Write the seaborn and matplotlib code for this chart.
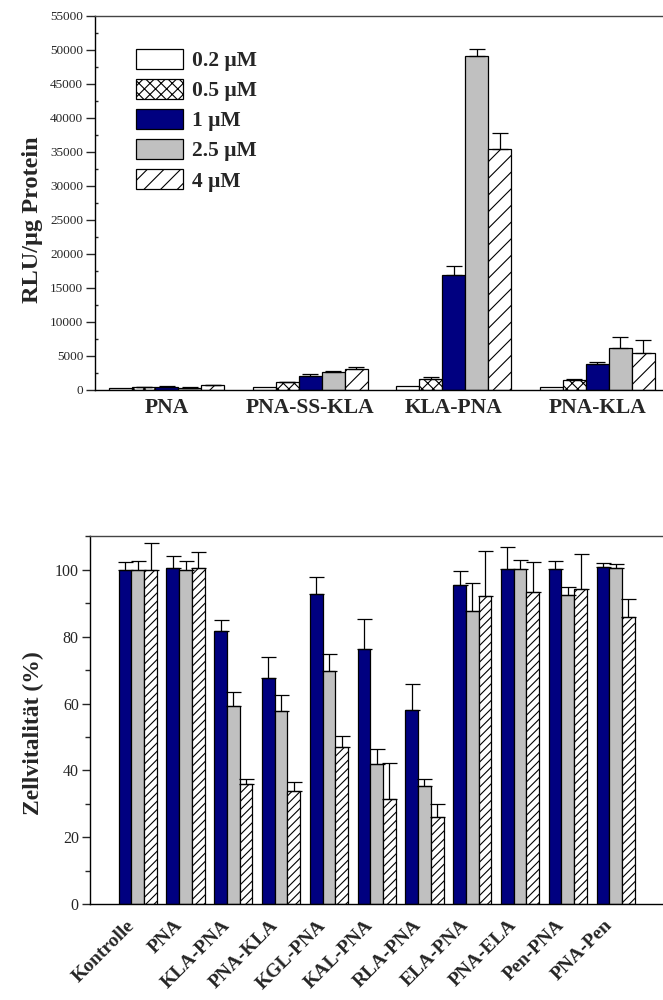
import numpy as np
import pandas as pd
import matplotlib
matplotlib.use("Agg")
import matplotlib.pyplot as plt
from matplotlib.ticker import MultipleLocator
import seaborn as sns

# ---- Luciferase read-out (RLU per µg protein) ----
conjugates = ["PNA", "PNA-SS-KLA", "KLA-PNA", "PNA-KLA"]
concentrations = ["0.2 µM", "0.5 µM", "1 µM", "2.5 µM", "4 µM"]
rlu_02 = [300, 440, 640, 490]
rlu_05 = [400, 1130, 1570, 1470]
rlu_1 = [490, 2110, 16900, 3820]
rlu_25 = [340, 2650, 49100, 6170]
rlu_4 = [690, 3150, 35430, 5440]
rlu_err_02 = [0, 0, 0, 0]
rlu_err_05 = [60, 100, 330, 150]
rlu_err_1 = [100, 220, 1380, 300]
rlu_err_25 = [60, 200, 1030, 1670]
rlu_err_4 = [60, 300, 2300, 1960]

# ---- Cell viability (%) ----
peptides = ["Kontrolle", "PNA", "KLA-PNA", "PNA-KLA", "KGL-PNA", "KAL-PNA",
            "RLA-PNA", "ELA-PNA", "PNA-ELA", "Pen-PNA", "PNA-Pen"]
viab_levels = ["1 µM", "2.5 µM", "4 µM"]
viab_1 = [100.0, 100.6, 81.7, 67.5, 92.8, 76.4, 58.2, 95.5, 100.3, 100.3, 100.7]
viab_25 = [100.0, 100.0, 59.4, 57.9, 69.8, 41.9, 35.4, 87.6, 100.1, 92.5, 100.4]
viab_4 = [100.0, 100.4, 36.0, 33.9, 47.0, 31.4, 26.0, 92.1, 93.3, 94.3, 85.9]
viab_err_1 = [2.2, 3.5, 3.2, 6.5, 4.9, 9.0, 7.6, 4.1, 6.6, 2.3, 1.4]
viab_err_25 = [2.5, 2.5, 4.1, 4.6, 5.1, 4.5, 2.2, 8.5, 2.8, 2.3, 1.3]
viab_err_4 = [8.0, 5.0, 1.4, 2.6, 3.3, 10.9, 3.9, 13.6, 9.1, 10.4, 5.3]

NAVY = "#000080"
GREY = "#c0c0c0"

sns.set_style("ticks")
plt.rcParams["font.family"] = ["Liberation Serif", "DejaVu Serif"]
plt.rcParams["hatch.linewidth"] = 0.8
plt.rcParams["axes.linewidth"] = 1.0

fig = plt.figure(figsize=(6.63, 10.0), dpi=100)


def long_frame(cats, levels, values):
    rows = []
    for lvl, vals in zip(levels, values):
        for c, v in zip(cats, vals):
            rows.append({"cat": c, "conc": lvl, "value": v})
    return pd.DataFrame(rows)


def add_errors(ax, errors, capsize):
    for cont, errs in zip(ax.containers, errors):
        xs, ys, es = [], [], []
        for bar, e in zip(cont.patches, errs):
            if e <= 0:
                continue
            xs.append(bar.get_x() + bar.get_width() / 2)
            ys.append(bar.get_height())
            es.append(e)
        if xs:
            ax.errorbar(xs, ys, yerr=[np.zeros(len(es)), es], fmt="none",
                        ecolor="black", elinewidth=0.9, capsize=capsize,
                        capthick=0.9, zorder=3)


def style_axes(ax):
    sns.despine(ax=ax, right=True, top=False)
    ax.spines["top"].set_color("#444444")
    ax.spines["left"].set_color("black")
    ax.spines["bottom"].set_color("black")


# ================= top panel =================
ax1 = fig.add_axes([0.1433, 0.610, 0.8658, 0.374])
df1 = long_frame(conjugates, concentrations, [rlu_02, rlu_05, rlu_1, rlu_25, rlu_4])
sns.barplot(data=df1, x="cat", y="value", hue="conc", order=conjugates,
            hue_order=concentrations,
            palette=["white", "white", NAVY, GREY, "white"], saturation=1,
            edgecolor="black", linewidth=0.9, errorbar=None, width=0.8,
            legend=False, ax=ax1)
hatches1 = [None, "xxx", None, None, "//"]
for cont, h in zip(ax1.containers, hatches1):
    for bar in cont.patches:
        bar.set_hatch(h)
add_errors(ax1, [rlu_err_02, rlu_err_05, rlu_err_1, rlu_err_25, rlu_err_4], 6)

ax1.set_xlim(-0.5, 3.5)
ax1.set_ylim(0, 55000)
ax1.yaxis.set_major_locator(MultipleLocator(5000))
ax1.yaxis.set_minor_locator(MultipleLocator(2500))
ax1.tick_params(axis="y", which="major", direction="out", length=6.5,
                width=1, labelsize=9.5, pad=2)
ax1.tick_params(axis="y", which="minor", direction="in", length=2.5, width=1)
ax1.tick_params(axis="x", length=0, pad=6)
for lab in ax1.get_xticklabels():
    lab.set_fontsize(15.5)
    lab.set_fontweight("bold")
ax1.set_xlabel("")
ax1.set_ylabel("RLU/µg Protein", fontsize=17.5, fontweight="bold")
ax1.yaxis.set_label_coords(-0.09, 0.455)
style_axes(ax1)

leg = ax1.legend(ax1.containers, concentrations, loc="upper left",
                 bbox_to_anchor=(0.072, 0.912), frameon=False,
                 prop={"family": "Liberation Serif", "weight": "bold", "size": 15.5},
                 handlelength=2.15, handleheight=1.05, handletextpad=0.45,
                 labelspacing=0.36, borderpad=0, borderaxespad=0)

# ================= bottom panel =================
ax2 = fig.add_axes([0.1357, 0.0957, 0.901, 0.368])
df2 = long_frame(peptides, viab_levels, [viab_1, viab_25, viab_4])
sns.barplot(data=df2, x="cat", y="value", hue="conc", order=peptides,
            hue_order=viab_levels, palette=[NAVY, GREY, "white"], saturation=1,
            edgecolor="black", linewidth=0.9, errorbar=None, width=0.8,
            legend=False, ax=ax2)
for bar in ax2.containers[2].patches:
    bar.set_hatch("////")
add_errors(ax2, [viab_err_1, viab_err_25, viab_err_4], 5.4)

ax2.set_xlim(-1.0, 11.5)
ax2.set_ylim(0, 110)
ax2.yaxis.set_major_locator(MultipleLocator(20))
ax2.yaxis.set_minor_locator(MultipleLocator(10))
ax2.tick_params(axis="y", which="major", direction="out", length=6,
                width=1, labelsize=11.5, pad=2)
ax2.tick_params(axis="y", which="minor", direction="out", length=3.5, width=1)
ax2.tick_params(axis="x", length=0, pad=9)
for lab in ax2.get_xticklabels():
    lab.set_fontsize(14)
    lab.set_fontweight("bold")
    lab.set_rotation(45)
    lab.set_ha("right")
ax2.set_xlabel("")
ax2.set_ylabel("Zellvitalität (%)", fontsize=17, fontweight="bold")
ax2.yaxis.set_label_coords(-0.077, 0.465)
style_axes(ax2)

fig.savefig("out.png", dpi=100)
